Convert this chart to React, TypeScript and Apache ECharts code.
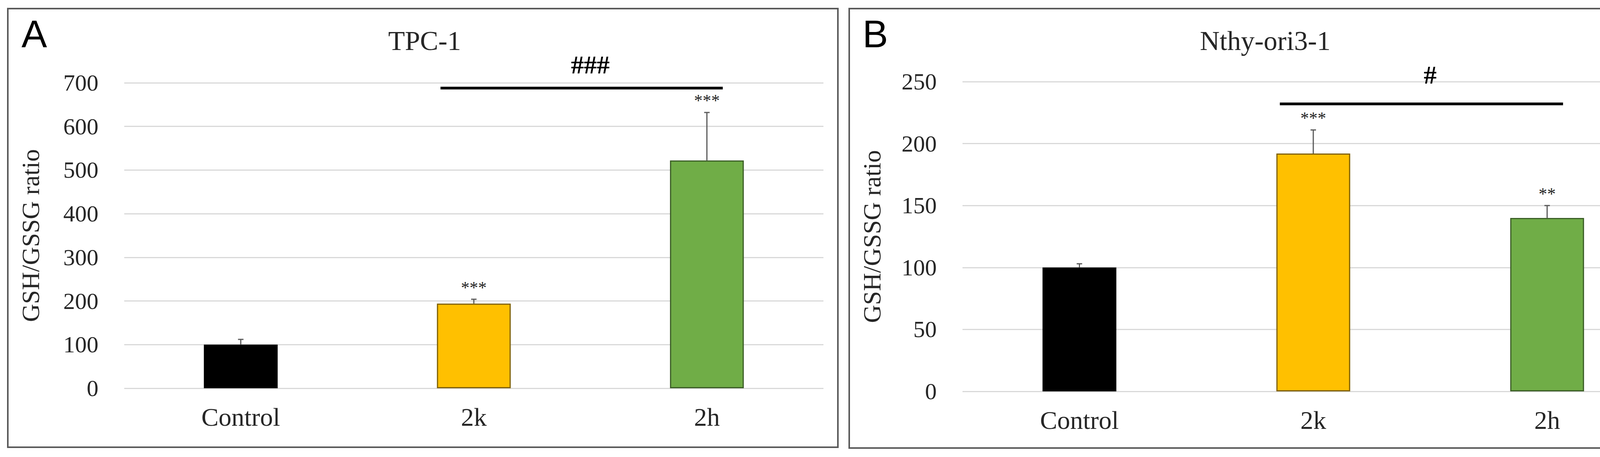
import React, { useEffect, useRef } from "react";
import * as echarts from "echarts";

const categories = ["Control", "2k", "2h"];
const barColors = ["#000000", "#FFC000", "#70AD47"];
const barBorders = ["#000000", "#7F6000", "#3B5E26"];

const valuesA = [100, 194, 522];
const errorsA = [12, 10, 110];
const sigA = ["", "***", "***"];
const ticksA = { min: 0, max: 700, interval: 100 };
const bracketA = { from: 1, to: 2, y: 688, labelY: 742, label: "###" };

const valuesB = [100, 192, 140];
const errorsB = [3, 19, 10];
const sigB = ["", "***", "**"];
const ticksB = { min: 0, max: 250, interval: 50 };
const bracketB = { from: 1, to: 2, y: 232, labelY: 255.5, label: "#" };

const titles = ["TPC-1", "Nthy-ori3-1"];
const panelLetters = ["A", "B"];
const yName = "GSH/GSSG ratio";

const SERIF = "'Liberation Serif', 'Times New Roman', serif";
const TXT = "#262626";

function errorSeries(idx: number, values: number[], errors: number[], sig: string[]) {
  return {
    type: "custom",
    xAxisIndex: idx,
    yAxisIndex: idx,
    clip: false,
    z: 5,
    data: values.map((v, i) => [i, v, errors[i]]),
    renderItem: (params: any, api: any) => {
      const x = api.value(0);
      const v = api.value(1);
      const e = api.value(2);
      const base = api.coord([x, v]);
      const top = api.coord([x, v + e]);
      const s = sig[params.dataIndex];
      const children: any[] = [
        {
          type: "line",
          shape: { x1: base[0], y1: base[1], x2: top[0], y2: top[1] },
          style: { stroke: "#595959", lineWidth: 3 },
        },
        {
          type: "line",
          shape: { x1: top[0] - 7, y1: top[1], x2: top[0] + 7, y2: top[1] },
          style: { stroke: "#595959", lineWidth: 3 },
        },
      ];
      if (s) {
        children.push({
          type: "text",
          x: top[0],
          y: top[1] - 8,
          style: {
            text: s,
            fontSize: 44,
            fontFamily: SERIF,
            fill: TXT,
            textAlign: "center",
            textVerticalAlign: "bottom",
          },
        });
      }
      return { type: "group", children };
    },
  };
}

function bracketSeries(idx: number, b: any) {
  return {
    type: "custom",
    xAxisIndex: idx,
    yAxisIndex: idx,
    clip: false,
    z: 6,
    data: [[b.from, b.to, b.y, b.labelY]],
    renderItem: (params: any, api: any) => {
      const p1 = api.coord([api.value(0), api.value(2)]);
      const p2 = api.coord([api.value(1), api.value(2)]);
      const lt = api.coord([api.value(0), api.value(3)]);
      const band = api.size([1, 0])[0];
      return {
        type: "group",
        children: [
          {
            type: "line",
            shape: { x1: p1[0] - 0.143 * band, y1: p1[1], x2: p2[0] + 0.068 * band, y2: p2[1] },
            style: { stroke: "#000000", lineWidth: 7 },
          },
          {
            type: "text",
            x: (p1[0] + p2[0]) / 2,
            y: lt[1],
            style: {
              text: b.label,
              fontSize: 66,
              fontWeight: "bold",
              fontFamily: SERIF,
              fill: "#000000",
              textAlign: "center",
              textVerticalAlign: "middle",
            },
          },
        ],
      };
    },
  };
}

function barSeries(idx: number, values: number[]) {
  return {
    type: "bar",
    xAxisIndex: idx,
    yAxisIndex: idx,
    barWidth: 189,
    z: 3,
    data: values.map((v, i) => ({
      value: v,
      itemStyle: { color: barColors[i], borderColor: barBorders[i], borderWidth: 3 },
    })),
  };
}

function yAxis(idx: number, t: any, gap: number) {
  return {
    type: "value",
    gridIndex: idx,
    min: t.min,
    max: t.max,
    interval: t.interval,
    name: yName,
    nameLocation: "middle",
    nameRotate: 90,
    nameGap: gap,
    nameTextStyle: { fontSize: 64, fontFamily: SERIF, color: TXT },
    axisLine: { show: false },
    axisTick: { show: false },
    axisLabel: { fontSize: 60, fontFamily: SERIF, color: TXT, margin: 66 },
    splitLine: { lineStyle: { color: "#D9D9D9", width: 3 } },
  };
}

function xAxis(idx: number) {
  return {
    type: "category",
    gridIndex: idx,
    data: categories,
    axisLine: { show: false },
    axisTick: { show: false },
    axisLabel: { fontSize: 66, fontFamily: SERIF, color: TXT, margin: 40 },
  };
}

export default function App() {
  const ref = useRef<HTMLDivElement>(null);
  useEffect(() => {
    document.body.style.margin = "0";
    if (!ref.current) return;
    const chart = echarts.init(ref.current, null, { renderer: "svg" });
    const titleStyle = { fontSize: 70, fontFamily: SERIF, fontWeight: "normal", color: TXT };
    const option: any = {
      animation: false,
      backgroundColor: "#ffffff",
      title: [
        { text: titles[0], left: 1082, top: 64, textAlign: "center", textStyle: titleStyle },
        { text: titles[1], left: 3234, top: 64, textAlign: "center", textStyle: titleStyle },
      ],
      grid: [
        { left: 318, right: 2219, top: 212, bottom: 176 },
        { left: 2464, right: 67, top: 209, bottom: 168 },
      ],
      xAxis: [xAxis(0), xAxis(1)],
      yAxis: [yAxis(0, ticksA, 208), yAxis(1, ticksB, 200)],
      series: [
        barSeries(0, valuesA),
        errorSeries(0, valuesA, errorsA, sigA),
        bracketSeries(0, bracketA),
        barSeries(1, valuesB),
        errorSeries(1, valuesB, errorsB, sigB),
        bracketSeries(1, bracketB),
      ],
      graphic: [
        {
          type: "rect",
          shape: { x: 20, y: 22, width: 2125, height: 1123 },
          style: { fill: "none", stroke: "#595959", lineWidth: 4 },
          z: 10,
        },
        {
          type: "rect",
          shape: { x: 2174, y: 22, width: 2120, height: 1125 },
          style: { fill: "none", stroke: "#595959", lineWidth: 4 },
          z: 10,
        },
        {
          type: "text",
          x: 55,
          y: 136,
          style: {
            text: panelLetters[0],
            fontSize: 98,
            fontFamily: "'Liberation Sans', Arial, sans-serif",
            fill: "#000000",
            textVerticalAlign: "bottom",
          },
        },
        {
          type: "text",
          x: 2208,
          y: 136,
          style: {
            text: panelLetters[1],
            fontSize: 98,
            fontFamily: "'Liberation Sans', Arial, sans-serif",
            fill: "#000000",
            textVerticalAlign: "bottom",
          },
        },
      ],
    };
    chart.setOption(option);
    return () => chart.dispose();
  }, []);
  return <div ref={ref} style={{ width: 4327, height: 1170 }} />;
}
